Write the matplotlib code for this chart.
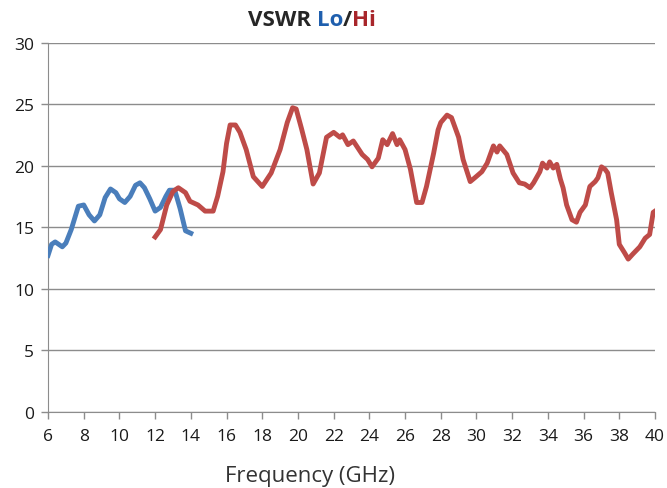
import matplotlib
matplotlib.use('Agg')
import matplotlib.pyplot as plt
from matplotlib.offsetbox import TextArea, HPacker, AnnotationBbox

# VSWR readings for the low band antenna (GHz, ratio)
loFreq = [6.0, 6.2, 6.4, 6.6, 6.8, 7.0, 7.3, 7.7, 8.0, 8.3, 8.6, 8.9, 9.2, 9.5, 9.8,
          10.0, 10.3, 10.6, 10.9, 11.15, 11.4, 11.7, 12.0, 12.3, 12.6, 12.8, 13.1,
          13.4, 13.7, 14.0]
loVswr = [12.7, 13.6, 13.8, 13.6, 13.4, 13.7, 14.8, 16.7, 16.8, 16.0, 15.5, 16.0,
          17.4, 18.1, 17.8, 17.3, 17.0, 17.5, 18.4, 18.6, 18.2, 17.3, 16.3, 16.6,
          17.5, 18.0, 18.0, 16.5, 14.7, 14.5]

# VSWR readings for the high band antenna
hiFreq = [12.0, 12.3, 12.65, 13.0, 13.3, 13.7, 13.95, 14.4, 14.8, 15.25, 15.5, 15.8,
          16.0, 16.2, 16.5, 16.75, 17.1, 17.5, 18.0, 18.5, 19.0, 19.4, 19.7, 19.9,
          20.2, 20.5, 20.85, 21.2, 21.6, 22.0, 22.35, 22.5, 22.8, 23.1, 23.6, 23.9,
          24.15, 24.5, 24.75, 25.0, 25.3, 25.55, 25.7, 26.0, 26.3, 26.65, 26.95,
          27.2, 27.6, 27.85, 28.0, 28.35, 28.6, 29.0, 29.25, 29.65, 29.9, 30.3,
          30.6, 30.95, 31.15, 31.3, 31.7, 32.05, 32.4, 32.7, 33.0, 33.2, 33.55,
          33.7, 33.95, 34.1, 34.3, 34.5, 34.7, 34.85, 35.05, 35.35, 35.6, 35.8,
          36.1, 36.35, 36.65, 36.8, 37.0, 37.2, 37.35, 37.55, 37.85, 38.0, 38.3,
          38.5, 38.75, 39.15, 39.45, 39.7, 39.9, 40.0]
hiVswr = [14.2, 14.8, 16.8, 17.9, 18.2, 17.8, 17.1, 16.8, 16.3, 16.3, 17.5, 19.5,
          21.8, 23.3, 23.3, 22.7, 21.3, 19.1, 18.3, 19.4, 21.3, 23.5, 24.7, 24.6,
          23.0, 21.3, 18.5, 19.4, 22.3, 22.7, 22.3, 22.5, 21.7, 22.0, 20.9, 20.5,
          19.9, 20.6, 22.1, 21.7, 22.6, 21.7, 22.1, 21.3, 19.7, 17.0, 17.0, 18.3,
          21.0, 22.9, 23.5, 24.1, 23.9, 22.3, 20.5, 18.7, 19.0, 19.5, 20.2, 21.6,
          21.1, 21.6, 20.9, 19.4, 18.6, 18.5, 18.2, 18.6, 19.5, 20.2, 19.8, 20.3,
          19.8, 20.1, 18.9, 18.2, 16.8, 15.6, 15.4, 16.2, 16.8, 18.3, 18.7, 19.0,
          19.9, 19.7, 19.4, 17.8, 15.6, 13.6, 12.9, 12.4, 12.8, 13.4, 14.1, 14.4,
          16.2, 16.3]

xTicks = list(range(6, 41, 2))
yTicks = list(range(0, 31, 5))

plt.rcParams['font.family'] = ['Open Sans', 'DejaVu Sans']

fig = plt.figure(figsize=(6.67, 4.89), dpi=100)
ax = fig.add_axes([0.072, 0.156, 0.910, 0.755])

ax.plot(loFreq, loVswr, color='#4a7ebb', lw=3.5, solid_joinstyle='round', zorder=3)
ax.plot(hiFreq, hiVswr, color='#be4b48', lw=3.5, solid_joinstyle='round', zorder=3)

ax.set_xlim(6, 40)
ax.set_ylim(0, 30)
ax.set_xticks(xTicks)
ax.set_yticks(yTicks)
ax.yaxis.grid(True, color='#8c8c8c', lw=1)
ax.set_axisbelow(True)
for side in ['top', 'right']:
	ax.spines[side].set_visible(False)
for side in ['left', 'bottom']:
	ax.spines[side].set_color('#8c8c8c')
ax.tick_params(axis='both', colors='#8c8c8c', labelcolor='#1a1a1a', labelsize=12.5, length=5, width=1)
ax.tick_params(axis='x', pad=7)
ax.tick_params(axis='y', pad=5)
ax.set_xlabel('Frequency (GHz)', fontsize=16, color='#333333')
ax.xaxis.set_label_coords(0.432, -0.145)

# Title in three colours
parts = [TextArea('VSWR ', textprops=dict(color='#262626', fontsize=16, fontweight='bold')),
         TextArea('Lo', textprops=dict(color='#1f5fae', fontsize=16, fontweight='bold')),
         TextArea('/', textprops=dict(color='#262626', fontsize=16, fontweight='bold')),
         TextArea('Hi', textprops=dict(color='#a8262b', fontsize=16, fontweight='bold'))]
box = HPacker(children=parts, align='baseline', pad=0, sep=0)
title = AnnotationBbox(box, (312 / 667, 1 - 21 / 489), xycoords='figure fraction', frameon=False)
fig.add_artist(title)

plt.savefig('out.png', dpi=100)
